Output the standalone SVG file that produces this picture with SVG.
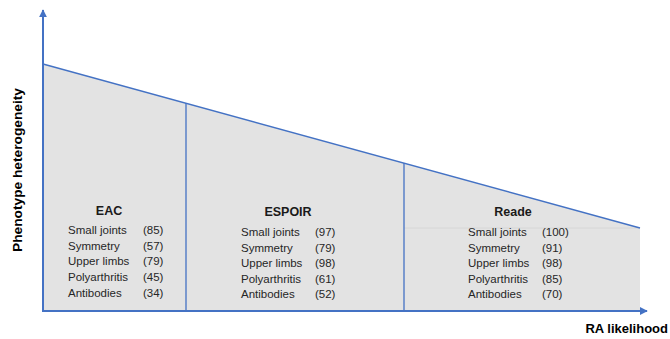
<svg xmlns="http://www.w3.org/2000/svg" width="670" height="339" viewBox="0 0 670 339">
<style>
.t{font-family:"Liberation Sans",Arial,sans-serif;font-size:11.5px;fill:#262626}
.h{font-family:"Liberation Sans",Arial,sans-serif;font-size:12.5px;font-weight:bold;fill:#1a1a1a}
.ax{font-family:"Liberation Sans",Arial,sans-serif;font-size:13px;font-weight:bold;fill:#000}
.ln{stroke:#4472C4;stroke-width:1.3;fill:none}
.axis{stroke:#4472C4;stroke-width:2;fill:none}
</style>
<defs>
<marker id="arr" viewBox="0 0 10 10" refX="9" refY="5" markerWidth="4" markerHeight="4" orient="auto" markerUnits="strokeWidth">
<path d="M0,0 L10,5 L0,10 z" fill="#4472C4"/>
</marker>
</defs>
<rect width="670" height="339" fill="#fff"/>
<g id="area">
<polygon points="43,64 640,228 640,312 43,312" fill="#e3e3e3"/>
<line x1="404" y1="228" x2="640" y2="228" stroke="#d6d6d6" stroke-width="1"/>
<line class="ln" x1="43" y1="64" x2="640" y2="228"/>
</g>
<g id="connectors">
<line class="ln" x1="186" y1="103" x2="186" y2="312"/>
<line class="ln" x1="404" y1="163" x2="404" y2="312"/>
<line class="axis" x1="43" y1="312" x2="43" y2="10" marker-end="url(#arr)"/>
<line class="axis" x1="43" y1="311" x2="647" y2="311" marker-end="url(#arr)"/>
</g>
<g id="eac">
<text class="h" x="109" y="215" text-anchor="middle">EAC</text>
<text class="t" x="68" y="234">Small joints</text><text class="t" x="143" y="234">(85)</text>
<text class="t" x="68" y="250">Symmetry</text><text class="t" x="143" y="250">(57)</text>
<text class="t" x="68" y="265">Upper limbs</text><text class="t" x="143" y="265">(79)</text>
<text class="t" x="68" y="281">Polyarthritis</text><text class="t" x="143" y="281">(45)</text>
<text class="t" x="68" y="297">Antibodies</text><text class="t" x="143" y="297">(34)</text>
</g>
<g id="espoir">
<text class="h" x="288" y="216" text-anchor="middle">ESPOIR</text>
<text class="t" x="241" y="236">Small joints</text><text class="t" x="315" y="236">(97)</text>
<text class="t" x="241" y="252">Symmetry</text><text class="t" x="315" y="252">(79)</text>
<text class="t" x="241" y="267">Upper limbs</text><text class="t" x="315" y="267">(98)</text>
<text class="t" x="241" y="283">Polyarthritis</text><text class="t" x="315" y="283">(61)</text>
<text class="t" x="241" y="298">Antibodies</text><text class="t" x="315" y="298">(52)</text>
</g>
<g id="reade">
<text class="h" x="513" y="216" text-anchor="middle">Reade</text>
<text class="t" x="468" y="236">Small joints</text><text class="t" x="542" y="236">(100)</text>
<text class="t" x="468" y="252">Symmetry</text><text class="t" x="542" y="252">(91)</text>
<text class="t" x="468" y="267">Upper limbs</text><text class="t" x="542" y="267">(98)</text>
<text class="t" x="468" y="283">Polyarthritis</text><text class="t" x="542" y="283">(85)</text>
<text class="t" x="468" y="298">Antibodies</text><text class="t" x="542" y="298">(70)</text>
</g>
<g id="labels">
<text class="ax" x="668" y="333" text-anchor="end">RA likelihood</text>
<text class="ax" transform="translate(22,170) rotate(-90)" text-anchor="middle" textLength="164" lengthAdjust="spacingAndGlyphs">Phenotype heterogeneity</text>
</g>
</svg>
